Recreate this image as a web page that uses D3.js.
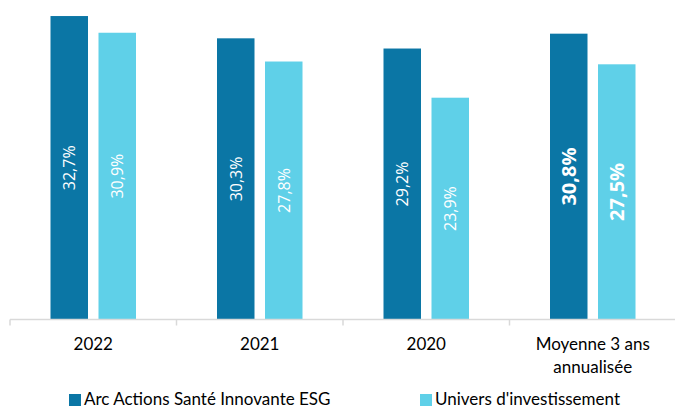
<!DOCTYPE html>
<html>
<head>
<meta charset="utf-8">
<script src="https://cdn.jsdelivr.net/npm/d3@7"></script>
<style>
  body { margin: 0; background: #fff; }
  svg { display: block; }
</style>
</head>
<body>
<div id="chart"></div>
<script>
const categories = ["2022", "2021", "2020", "Moyenne 3 ans\nannualisée"];
const seriesNames = ["Arc Actions Santé Innovante ESG", "Univers d'investissement"];
const fundValues = [32.7, 30.3, 29.2, 30.8];
const universeValues = [30.9, 27.8, 23.9, 27.5];
const colors = ["#0b76a5", "#5fd0e8"];

const width = 675, height = 410;
const baseY = 319.5;

const data = categories.map((c, i) => ({
    cat: c,
    values: [fundValues[i], universeValues[i]],
    bold: i === categories.length - 1
}));

const svg = d3.select("#chart").append("svg")
    .attr("width", width)
    .attr("height", height);

const x0 = d3.scaleBand()
    .domain(categories)
    .range([10, 676])
    .padding(0);

const x1 = d3.scaleBand()
    .domain([0, 1])
    .range([40.5, 126])
    .paddingInner(0.21875)
    .paddingOuter(0);

const y = d3.scaleLinear()
    .domain([0, 35])
    .range([baseY, baseY - 35 * 9.28]);

// bars
const groups = svg.selectAll("g.group")
    .data(data)
    .enter().append("g")
    .attr("class", "group")
    .attr("transform", d => `translate(${x0(d.cat)},0)`);

groups.selectAll("rect")
    .data(d => d.values.map((v, k) => ({ v, k })))
    .enter().append("rect")
    .attr("x", d => x1(d.k))
    .attr("y", d => y(d.v))
    .attr("width", x1.bandwidth())
    .attr("height", d => baseY - y(d.v))
    .attr("fill", d => colors[d.k]);

// value labels, rotated inside bars
groups.each(function(g) {
    d3.select(this).selectAll("text.val")
        .data(g.values.map((v, k) => ({ v, k })))
        .enter().append("text")
        .attr("class", "val")
        .attr("transform", d => `translate(${x1(d.k) + x1.bandwidth() / 2},${(y(d.v) + baseY) / 2}) rotate(-90)`)
        .attr("text-anchor", "middle")
        .attr("dy", "0.36em")
        .attr("fill", "#fff")
        .style("font-family", "'Open Sans', sans-serif")
        .style("font-size", g.bold ? "20px" : "16px")
        .style("font-weight", g.bold ? "bold" : "normal")
        .text(d => d.v.toFixed(1).replace(".", ",") + "%");
});

// x axis
const axis = svg.append("g")
    .attr("transform", `translate(0,${baseY})`)
    .call(d3.axisBottom(x0).tickSize(0).tickFormat(""));
axis.select(".domain").attr("stroke", "#d9d9d9").attr("stroke-width", 1.5)
    .attr("d", "M10,0H676");

const boundaries = d3.range(categories.length + 1).map(i => 10 + i * x0.step());
axis.selectAll("line.sep")
    .data(boundaries)
    .enter().append("line")
    .attr("class", "sep")
    .attr("x1", d => d).attr("x2", d => d)
    .attr("y1", 0).attr("y2", 6)
    .attr("stroke", "#d9d9d9")
    .attr("stroke-width", 1.5);

// category labels
svg.selectAll("text.cat")
    .data(categories)
    .enter().append("text")
    .attr("class", "cat")
    .attr("text-anchor", "middle")
    .attr("fill", "#000")
    .style("font-family", "Lato, sans-serif")
    .style("font-size", "17px")
    .each(function(c) {
        const lines = c.split("\n");
        d3.select(this).selectAll("tspan")
            .data(lines)
            .enter().append("tspan")
            .attr("x", x0(c) + x0.bandwidth() / 2)
            .attr("y", (l, i) => 350 + i * 23)
            .text(l => l);
    });

// legend
const legendX = [69, 420];
const legend = svg.selectAll("g.legend")
    .data(seriesNames)
    .enter().append("g")
    .attr("class", "legend")
    .attr("transform", (d, i) => `translate(${legendX[i]},394)`);

legend.append("rect")
    .attr("width", 12)
    .attr("height", 12)
    .attr("fill", (d, i) => colors[i]);

legend.append("text")
    .attr("x", 15)
    .attr("y", 11)
    .attr("fill", "#000")
    .style("font-family", "Lato, sans-serif")
    .style("font-size", "17px")
    .text(d => d);
</script>
</body>
</html>
